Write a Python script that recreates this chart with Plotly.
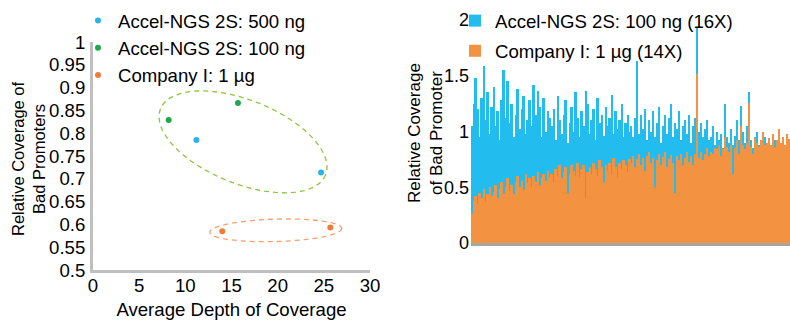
import numpy as np
import plotly.graph_objects as go

W, H = 790, 320
FONT = "Liberation Sans, Arial, sans-serif"

# ---------------- data: left scatter ----------------
s500_name = "Accel-NGS 2S: 500 ng"
s500_x = [11.2, 24.7]
s500_y = [0.785, 0.714]
s100_name = "Accel-NGS 2S: 100 ng"
s100_x = [8.2, 15.7]
s100_y = [0.829, 0.866]
ci_name = "Company I: 1 µg"
ci_x = [14.0, 25.7]
ci_y = [0.585, 0.593]
left_xticks = [0, 5, 10, 15, 20, 25, 30]
left_yticks = [0.5, 0.55, 0.6, 0.65, 0.7, 0.75, 0.8, 0.85, 0.9, 0.95, 1]
left_ytext = ["0.5", "0.55", "0.6", "0.65", "0.7", "0.75", "0.8", "0.85", "0.9", "0.95", "1"]

# ---------------- data: right bars (per promoter) ----------------
blue_name = "Accel-NGS 2S: 100 ng (16X)"
blue_vals = [
    1.05, 1.25, 1.48, 1.20, 0.95, 1.30, 1.59, 1.10, 1.35, 0.98, 1.22, 1.40, 1.05, 1.18, 0.92, 1.28, 1.55, 1.12, 1.45, 1.08,
    1.25, 0.95, 1.15, 1.38, 1.02, 1.20, 1.32, 0.98, 1.10, 1.28, 1.05, 1.42, 1.15, 1.36, 1.22, 0.95, 1.30, 1.00, 1.18, 1.12,
    1.05, 1.20, 0.92, 1.32, 1.10, 0.98, 1.15, 1.28, 0.90, 1.08, 1.22, 1.00, 1.35, 1.12, 0.95, 1.18, 1.05, 1.36, 1.25, 0.98,
    1.10, 1.20, 0.92, 1.30, 1.08, 1.15, 0.96, 1.22, 1.05, 1.12, 1.33, 0.98, 1.18, 1.02, 1.10, 1.25, 0.95, 1.08, 1.15, 1.00,
    1.05, 0.95, 1.12, 1.63, 0.98, 1.15, 1.02, 1.20, 0.92, 1.10, 1.00, 1.18, 0.95, 1.08, 1.22, 0.90, 1.05, 1.15, 0.98, 1.12,
    1.25, 0.95, 1.08, 1.02, 1.18, 0.92, 1.05, 1.10, 0.98, 1.15, 0.90, 1.05, 1.12, 1.93, 1.00, 1.08, 0.95, 1.02, 1.10, 0.92,
    0.95, 1.05, 0.88, 1.00, 0.92, 0.98, 0.85, 1.25, 0.95, 0.90, 1.02, 0.88, 0.96, 1.10, 0.92, 1.23, 1.00, 0.90, 1.05, 1.35,
    0.92, 0.85, 0.95, 1.00, 0.88, 0.84, 0.90, 0.95, 0.86, 0.82, 0.88, 0.86, 0.92, 0.84, 0.88, 0.85, 0.90, 0.84, 0.87, 0.85,
]
orange_name = "Company I: 1 µg (14X)"
orange_vals = [
    0.27, 0.38, 0.42, 0.35, 0.45, 0.40, 0.48, 0.37, 0.44, 0.50, 0.42, 0.46, 0.52, 0.40, 0.48, 0.55, 0.45, 0.50, 0.58, 0.47,
    0.52, 0.44, 0.55, 0.60, 0.50, 0.56, 0.48, 0.62, 0.54, 0.58, 0.50, 0.60, 0.55, 0.64, 0.52, 0.58, 0.62, 0.56, 0.65, 0.58,
    0.62, 0.55, 0.66, 0.60, 0.70, 0.58, 0.64, 0.68, 0.45, 0.62, 0.70, 0.65, 0.60, 0.72, 0.58, 0.66, 0.70, 0.40, 0.64, 0.68,
    0.62, 0.72, 0.66, 0.60, 0.74, 0.68, 0.55, 0.70, 0.65, 0.72, 0.62, 0.76, 0.68, 0.58, 0.72, 0.66, 0.74, 0.70, 0.64, 0.75,
    0.72, 0.78, 0.68, 0.75, 0.80, 0.70, 0.76, 0.65, 0.78, 0.82, 0.72, 0.76, 0.50, 0.74, 0.80, 0.70, 0.77, 0.82, 0.68, 0.75,
    0.79, 0.72, 0.45, 0.78, 0.74, 0.80, 0.70, 0.76, 0.82, 0.73, 0.78, 0.70, 0.80, 1.52, 0.76, 0.82, 0.74, 0.80, 0.85, 0.78,
    0.82, 0.80, 0.85, 0.84, 0.88, 0.78, 0.84, 0.95, 0.86, 0.82, 0.88, 0.62, 0.85, 0.92, 0.80, 1.05, 0.88, 0.84, 0.90, 1.26,
    0.86, 0.80, 0.94, 0.90, 0.86, 0.92, 1.00, 0.88, 0.90, 0.94, 0.88, 0.98, 0.86, 0.92, 1.02, 0.90, 0.95, 0.88, 0.98, 0.93,
]
right_yticks = [0, 0.5, 1, 1.5, 2]
right_ytext = ["0", "0.5", "1", "1.5", "2"]

# ---------------- styles ----------------
C_BLUE_DOT = "#2BB3E6"
C_GREEN_DOT = "#1FA84B"
C_ORANGE_DOT = "#F07C3A"
C_BLUE_BAR = "#22BDEE"
C_ORANGE_BAR = "#F39241"
C_AXIS = "#BFBFBF"
FS = 18.6

# pixel layout
LX0, LX1, LYT, LYB = 93, 370, 42, 270
RX0, RX1, RYT, RYB = 471, 790, 20, 243

def px_dom_x(a, b):
    return [a / W, b / W]

def px_dom_y(top, bot):
    return [1 - bot / H, 1 - top / H]

fig = go.Figure()

for name, xs, ys, col in [(s500_name, s500_x, s500_y, C_BLUE_DOT),
                          (s100_name, s100_x, s100_y, C_GREEN_DOT),
                          (ci_name, ci_x, ci_y, C_ORANGE_DOT)]:
    fig.add_trace(go.Scatter(x=xs, y=ys, mode="markers", name=name,
                             marker=dict(color=col, size=6),
                             xaxis="x", yaxis="y", legend="legend"))

idx = list(range(len(blue_vals)))
fig.add_trace(go.Bar(x=idx, y=blue_vals, name=blue_name, marker=dict(color=C_BLUE_BAR, line=dict(width=0)),
                     xaxis="x2", yaxis="y2", legend="legend2", legendgroup="a"))
fig.add_trace(go.Bar(x=idx, y=orange_vals, name=orange_name, marker=dict(color=C_ORANGE_BAR, line=dict(width=0)),
                     xaxis="x2", yaxis="y2", legend="legend2", legendgroup="b"))

# ---------------- dashed ellipses (left panel) ----------------
ppx = (LX1 - LX0) / 30.0
ppy = (LYB - LYT) / 0.5

def ellipse_path(cx, cy, a_px, b_px, ang_deg, n=90):
    t = np.linspace(0, 2 * np.pi, n)
    th = np.radians(ang_deg)
    dx = a_px * np.cos(t) * np.cos(th) - b_px * np.sin(t) * np.sin(th)
    dy = a_px * np.cos(t) * np.sin(th) + b_px * np.sin(t) * np.cos(th)
    xs = cx + dx / ppx
    ys = cy - dy / ppy
    pts = [f"{x:.4f},{y:.5f}" for x, y in zip(xs, ys)]
    return "M " + " L ".join(pts) + " Z"

shapes = [
    dict(type="path", xref="x", yref="y", path=ellipse_path(16.25, 0.781, 88.9, 41.8, 21.8),
         line=dict(color="#8DC63F", width=1.3, dash="5px,4px")),
    dict(type="path", xref="x", yref="y", path=ellipse_path(19.8, 0.587, 66, 11.2, -1.7),
         line=dict(color="#F5A070", width=1.3, dash="5px,4px")),
]

annotations = [
    dict(text="Relative Coverage of<br>Bad Promoters", textangle=-90, xref="paper", yref="paper",
         x=28 / W, y=1 - 159 / H, showarrow=False, font=dict(family=FONT, size=16.5, color="#000"),
         xanchor="center", yanchor="middle"),
    dict(text="Relative Coverage<br>of Bad Promoter", textangle=-90, xref="paper", yref="paper",
         x=425 / W, y=1 - 133 / H, showarrow=False, font=dict(family=FONT, size=17, color="#000"),
         xanchor="center", yanchor="middle"),
]

fig.update_layout(
    width=W, height=H, margin=dict(l=0, r=0, t=0, b=0),
    template="none", paper_bgcolor="white", plot_bgcolor="rgba(0,0,0,0)",
    font=dict(family=FONT, size=FS, color="#000"),
    barmode="overlay", bargap=0,
    shapes=shapes, annotations=annotations,
    xaxis=dict(domain=px_dom_x(LX0, LX1), range=[0, 30], tickvals=left_xticks, showgrid=False,
               zeroline=False, showline=True, linecolor=C_AXIS, linewidth=3, ticks="",
               ticklabelstandoff=-3, tickfont=dict(size=FS),
               title=dict(text="Average Depth of Coverage", font=dict(size=FS), standoff=12),
               anchor="y"),
    yaxis=dict(domain=px_dom_y(LYT, LYB), range=[0.5, 1.0], tickvals=left_yticks, ticktext=left_ytext,
               showgrid=False, zeroline=False, showline=True, linecolor=C_AXIS, linewidth=3, ticks="",
               ticklabelstandoff=1, tickfont=dict(size=FS), anchor="x"),
    xaxis2=dict(domain=px_dom_x(RX0, RX1), range=[-0.5, len(blue_vals) - 0.5], showticklabels=False,
                showgrid=False, zeroline=False, showline=True, linecolor="#A6A6A6", linewidth=3, ticks="",
                anchor="y2"),
    yaxis2=dict(domain=px_dom_y(RYT, RYB), range=[0, 2], tickvals=right_yticks, ticktext=right_ytext,
                showgrid=False, zeroline=False, showline=False, ticks="", ticklabelstandoff=1,
                tickfont=dict(size=18), anchor="x2"),
    legend=dict(x=78 / W, y=1 - 2 / H, xanchor="left", yanchor="top", bgcolor="rgba(0,0,0,0)",
                font=dict(family=FONT, size=FS), borderwidth=0, tracegroupgap=0),
    legend2=dict(x=455 / W, y=1 - 2 / H, xanchor="left", yanchor="top", bgcolor="rgba(0,0,0,0)",
                 font=dict(family=FONT, size=FS), borderwidth=0, tracegroupgap=3,
                 traceorder="grouped"),
)

fig.write_html("out.html")
